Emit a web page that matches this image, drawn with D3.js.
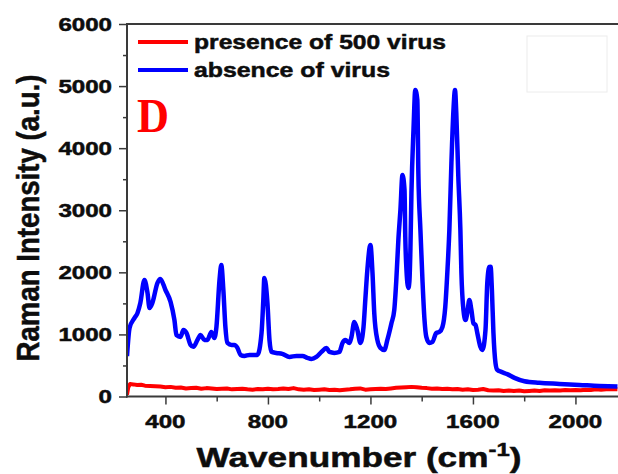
<!DOCTYPE html>
<html><head><meta charset="utf-8">
<script src="https://cdn.jsdelivr.net/npm/d3@7"></script>
<style>html,body{margin:0;padding:0;background:#fff;overflow:hidden}</style>
</head><body>
<svg id="c" width="618" height="474"></svg>
<script>
// ---- data ----
const absenceWave = [250,260,279,291,302,318,330,338,349,369,380,400,420,435,443,459,470,482,498,509,525,537,552,564,579,591,599,611,618,626,634,642,658,669,681,693,708,728,759,775,782,786,798,806,814,833,856,884,911,935,954,970,989,1009,1028,1040,1059,1079,1091,1102,1118,1126,1137,1149,1161,1173,1180,1188,1200,1208,1215,1227,1239,1254,1266,1282,1293,1301,1309,1317,1325,1333,1336,1340,1348,1352,1356,1360,1368,1375,1383,1387,1395,1403,1411,1418,1430,1442,1457,1469,1481,1492,1500,1508,1516,1524,1530,1535,1543,1551,1555,1563,1571,1578,1586,1594,1602,1610,1617,1629,1637,1649,1656,1664,1669,1674,1680,1688,1695,1711,1734,1762,1801,1859,1937,2015,2093,2164];
const absenceValue = [650,1105,1263,1346,1507,1877,1668,1425,1507,1830,1894,1716,1523,1233,990,960,1072,1024,831,800,911,990,911,911,1040,943,1120,1877,2119,1716,1120,863,831,831,783,670,654,670,670,1024,1555,1910,1507,911,718,702,686,638,654,654,622,605,638,718,783,718,702,718,863,911,863,960,1201,1072,863,1120,1555,2039,2441,1990,1340,911,783,750,911,1180,1394,1877,2522,3005,3568,3327,2570,2087,1749,1850,2377,3278,4292,4937,4776,3600,2683,1877,1233,960,863,880,1024,1040,1120,1442,1990,2683,3761,4615,4937,4567,3536,2683,1990,1394,1233,1346,1555,1394,1180,1152,1024,800,750,1072,1830,2087,2090,1716,1024,540,428,396,360,300,245,220,203,187,170,160];
const presenceWave = [250,255,262,275,290,305,320,340,360,380,400,420,440,460,480,500,520,540,560,580,600,620,640,660,680,700,720,740,760,780,800,820,840,860,880,900,920,940,960,980,1000,1020,1040,1060,1080,1100,1120,1140,1160,1180,1200,1220,1240,1260,1280,1300,1320,1340,1360,1380,1400,1420,1440,1460,1480,1500,1520,1540,1560,1580,1600,1620,1640,1660,1680,1700,1720,1740,1760,1780,1800,1820,1840,1860,1880,1900,1920,1940,1960,1980,2000,2020,2040,2060,2080,2100,2120,2140,2164];
const presenceValue = [30,150,200,195,185,190,175,170,165,160,150,155,140,145,130,135,140,125,135,130,120,125,130,115,120,125,115,110,120,115,125,115,120,130,120,135,115,110,115,105,110,115,105,110,100,110,115,125,130,110,115,120,125,120,130,140,145,150,155,150,140,135,125,130,120,125,115,120,110,115,105,110,120,100,95,100,90,95,90,95,85,90,95,90,100,95,100,95,105,100,105,100,110,105,115,110,115,120,115];
const seriesNames = ["presence of 500 virus", "absence of virus"];
const seriesColors = ["#ff0000", "#0000ff"];
const yTicks = [0,1000,2000,3000,4000,5000,6000];
const yMinor = [500,1500,2500,3500,4500,5500];
const xTicks = [400,800,1200,1600,2000];
const xMinor = [600,1000,1400,1800];

// ---- chart ----
const svg = d3.select("#c");
const FONT = "'Liberation Sans', Arial, sans-serif";
const INK = "#0d0d0d";
const x = d3.scaleLinear().domain([250, 2170]).range([127, 619]);
const y = d3.scaleLinear().domain([0, 6000]).range([396.5, 24]);

svg.append("defs").append("clipPath").attr("id","clip")
  .append("rect").attr("x",127).attr("y",20).attr("width",495).attr("height",378);

function fit(t, w){ t.attr("textLength", w).attr("lengthAdjust","spacingAndGlyphs"); return t; }
function heavy(t){ return t.attr("stroke",INK).attr("stroke-width",0.5).attr("fill",INK); }

// faint box
svg.append("rect").attr("x",527).attr("y",36).attr("width",80).attr("height",56)
  .attr("fill","none").attr("stroke","#ececec").attr("stroke-width",1);

// lines
const g = svg.append("g").attr("clip-path","url(#clip)");
g.append("path").datum(presenceWave.map((w,i)=>[w,presenceValue[i]]))
  .attr("d", d3.line().x(d=>x(d[0])).y(d=>y(d[1])).curve(d3.curveLinear)).attr("fill","none")
  .attr("stroke",seriesColors[0]).attr("stroke-width",4).attr("stroke-linejoin","round");
g.append("path").datum(absenceWave.map((w,i)=>[w,absenceValue[i]]))
  .attr("d", d3.line().x(d=>x(d[0])).y(d=>y(d[1])).curve(d3.curveMonotoneX)).attr("fill","none")
  .attr("stroke",seriesColors[1]).attr("stroke-width",4.5).attr("stroke-linejoin","round");

// axes
const axisCol = "#3a3a3a";
const yAxis = d3.axisLeft(y).tickValues(yTicks).tickSize(8).tickFormat("");
const yAxisMinor = d3.axisLeft(y).tickValues(yMinor).tickSize(4).tickFormat("");
const xAxis = d3.axisBottom(x).tickValues(xTicks).tickSize(8).tickFormat("");
const xAxisMinor = d3.axisBottom(x).tickValues(xMinor).tickSize(5).tickFormat("");
[ [yAxis,"translate(127,0)"], [yAxisMinor,"translate(127,0)"], [xAxis,"translate(0,396.5)"], [xAxisMinor,"translate(0,396.5)"] ]
 .forEach(([a,tr])=>{
   const ga = svg.append("g").attr("transform",tr).call(a);
   ga.select(".domain").remove();
   ga.selectAll("line").attr("stroke",axisCol).attr("stroke-width",1.5);
 });
svg.append("line").attr("x1",127).attr("x2",127).attr("y1",23.5).attr("y2",397.5).attr("stroke",axisCol).attr("stroke-width",2);
svg.append("line").attr("x1",126).attr("x2",618).attr("y1",396.5).attr("y2",396.5).attr("stroke",axisCol).attr("stroke-width",2);
svg.append("line").attr("x1",126).attr("x2",618).attr("y1",24).attr("y2",24).attr("stroke",axisCol).attr("stroke-width",2);

// tick labels
yTicks.forEach(v=>{
  const s = String(v);
  heavy(fit(svg.append("text").attr("x",112).attr("y",y(v)+6.5).attr("text-anchor","end")
    .attr("font-family",FONT).attr("font-weight","bold").attr("font-size",18.5).text(s), 13.4*s.length));
});
xTicks.forEach(v=>{
  const s = String(v);
  heavy(fit(svg.append("text").attr("x",x(v)).attr("y",428).attr("text-anchor","middle")
    .attr("font-family",FONT).attr("font-weight","bold").attr("font-size",18.5).text(s), 13.4*s.length));
});

// axis titles
const xl = svg.append("g").attr("transform","translate(359,467)");
const xt = heavy(xl.append("text").attr("text-anchor","middle").attr("font-family",FONT).attr("font-weight","bold")
  .attr("font-size",28));
xt.append("tspan").text("Wavenumber (cm");
xt.append("tspan").attr("font-size",19).attr("dy",-11).text("-1");
xt.append("tspan").attr("dy",11).text(")");
{ const w = xt.node().getBBox().width; xl.attr("transform",`translate(359,467) scale(${325/w},1)`); }

const yl = svg.append("g");
const yt = heavy(yl.append("text").attr("text-anchor","middle").attr("font-family",FONT).attr("font-weight","bold")
  .attr("font-size",31).text("Raman Intensity (a.u.)"));
{ const w = yt.node().getBBox().width; yl.attr("transform",`translate(39,218) rotate(-90) scale(${287/w},1)`); }

// legend
const legY = [42, 70], legW = [252, 196];
seriesNames.forEach((n,i)=>{
  svg.append("line").attr("x1",138).attr("x2",188).attr("y1",legY[i]).attr("y2",legY[i])
    .attr("stroke",seriesColors[i]).attr("stroke-width",4);
  heavy(fit(svg.append("text").attr("x",194).attr("y",legY[i]+7).attr("font-family",FONT).attr("font-weight","bold")
    .attr("font-size",21).text(n), legW[i]));
});

// panel letter
fit(svg.append("text").attr("x",137).attr("y",132).attr("font-family","'Liberation Serif','Times New Roman',serif")
  .attr("font-weight","bold").attr("font-size",48).attr("fill","#ff0000").text("D"), 32);
</script>
</body></html>
